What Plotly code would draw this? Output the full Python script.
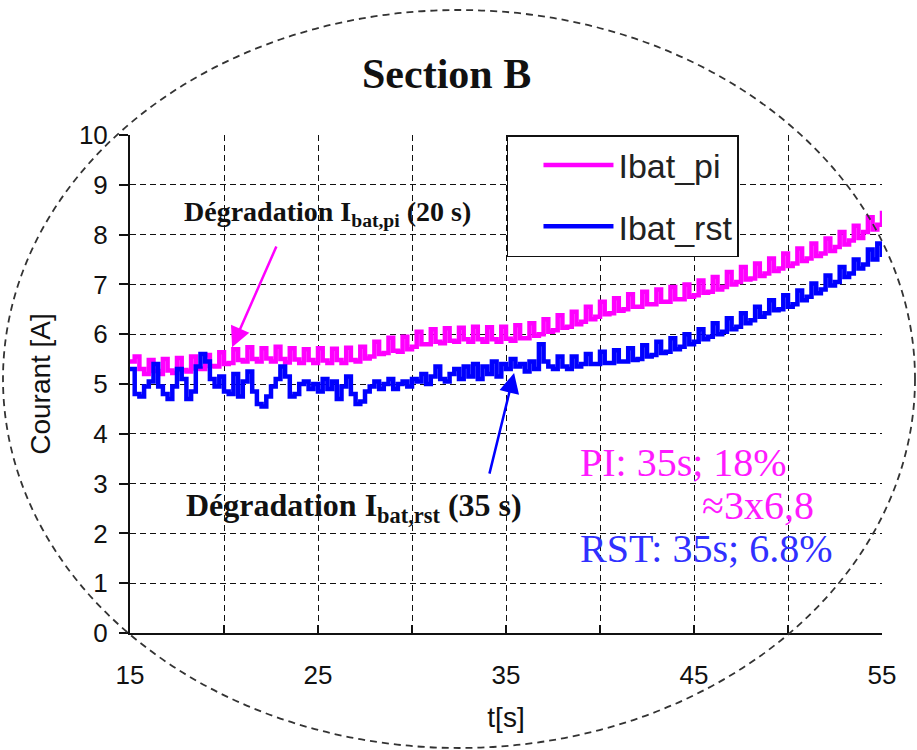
import numpy as np
import plotly.graph_objects as go

# ---------------- data ----------------
t = np.round(np.arange(15.0, 55.0001, 0.25), 2)

ibat_pi = [
    5.45, 5.55, 5.30, 5.20, 5.48, 5.26, 5.20, 5.50, 5.27, 5.22, 5.52, 5.28,
    5.25, 5.55, 5.31, 5.30, 5.58, 5.36, 5.35, 5.64, 5.40, 5.42, 5.70, 5.48,
    5.45, 5.74, 5.50, 5.45, 5.72, 5.51,
    5.45, 5.75, 5.50, 5.43, 5.72, 5.49, 5.42, 5.70, 5.48, 5.42, 5.72, 5.47,
    5.42, 5.71, 5.48, 5.42, 5.73, 5.48, 5.45, 5.75, 5.51, 5.55, 5.85, 5.60,
    5.62, 5.93, 5.67, 5.65, 5.95, 5.70,
    5.75, 6.05, 5.80, 5.80, 6.10, 5.85, 5.82, 6.12, 5.87, 5.85, 6.13, 5.90,
    5.85, 6.15, 5.90, 5.85, 6.14, 5.90, 5.85, 6.15, 5.91, 5.87, 6.18, 5.92,
    5.92, 6.22, 5.97, 6.00, 6.30, 6.05,
    6.08, 6.38, 6.13, 6.15, 6.45, 6.20, 6.25, 6.55, 6.30, 6.35, 6.65, 6.40,
    6.42, 6.72, 6.47, 6.50, 6.80, 6.55, 6.55, 6.85, 6.60, 6.60, 6.90, 6.65,
    6.65, 6.95, 6.70, 6.70, 7.00, 6.75,
    6.78, 7.08, 6.83, 6.85, 7.15, 6.90, 6.95, 7.25, 7.00, 7.05, 7.35, 7.10,
    7.12, 7.42, 7.17, 7.22, 7.52, 7.27, 7.32, 7.62, 7.37, 7.42, 7.72, 7.47,
    7.52, 7.82, 7.57, 7.62, 7.92, 7.67,
    7.75, 8.05, 7.80, 7.88, 8.18, 7.93, 8.05, 8.35, 8.10,
    8.20, 8.48,
]

ibat_rst = [
    5.30, 4.80, 4.75, 4.95,   # 15
    5.05, 5.40, 4.95, 4.80,   # 16
    4.70, 4.95, 5.30, 5.10,   # 17
    4.70, 4.85, 5.35, 5.60,   # 18
    5.45, 5.10, 4.95, 5.15,   # 19
    4.85, 4.80, 5.20, 4.75,   # 20
    5.05, 5.25, 4.85, 4.60,   # 21
    4.55, 4.75, 4.95, 5.10,   # 22
    5.35, 5.15, 4.75, 4.80,   # 23
    5.00, 5.05, 4.90, 5.00,   # 24
    4.85, 5.10, 4.90, 5.05,   # 25
    4.70, 4.95, 5.15, 4.80,   # 26
    4.60, 4.65, 4.85, 4.95,   # 27
    5.05, 4.90, 5.00, 5.10,   # 28
    4.90, 5.00, 5.05, 4.95,   # 29
    5.10, 5.05, 5.20, 5.00,   # 30
    5.15, 5.35, 5.10, 5.05,   # 31
    5.20, 5.30, 5.10, 5.35,   # 32
    5.15, 5.40, 5.10, 5.35,   # 33
    5.20, 5.45, 5.15, 5.40,   # 34
    5.30, 5.50, 5.35, 5.40,   # 35
    5.25, 5.45, 5.30, 5.80,   # 36
    5.45, 5.35, 5.30, 5.55,   # 37
    5.35, 5.30, 5.55, 5.35,   # 38
    5.40, 5.60, 5.40, 5.40,   # 39
    5.65, 5.42, 5.42, 5.68,   # 40
    5.45, 5.45, 5.72, 5.48,   # 41
    5.50, 5.78, 5.55, 5.58,   # 42
    5.85, 5.62, 5.65, 5.92,   # 43
    5.70, 5.75, 6.00, 5.80,   # 44
    5.85, 6.10, 5.90, 5.95,   # 45
    6.22, 6.00, 6.05, 6.32,   # 46
    6.10, 6.15, 6.42, 6.22,   # 47
    6.28, 6.55, 6.35, 6.42,   # 48
    6.68, 6.48, 6.50, 6.78,   # 49
    6.55, 6.60, 6.88, 6.68,   # 50
    6.75, 7.02, 6.82, 6.90,   # 51
    7.18, 6.98, 7.05, 7.35,   # 52
    7.15, 7.22, 7.50, 7.32,   # 53
    7.40, 7.70, 7.50, 7.82,   # 54
    7.55,                     # 55
]

series_names = ["Ibat_pi", "Ibat_rst"]
x_tick_vals = [15, 20, 25, 30, 35, 40, 45, 50, 55]
x_tick_text = ["15", "", "25", "", "35", "", "45", "", "55"]
y_tick_vals = [0, 1, 2, 3, 4, 5, 6, 7, 8, 9, 10]

# ---------------- styling ----------------
MAGENTA = "#FF00FF"
BLUE = "#0000FF"
SANS = "Liberation Sans, Arial, sans-serif"
SERIF = "Liberation Serif, Times New Roman, serif"

fig = go.Figure()
fig.add_trace(go.Scatter(x=t, y=ibat_pi, mode="lines", name=series_names[0],
                         line=dict(color=MAGENTA, width=4.5, shape="hv"), legendgroup="a"))
fig.add_trace(go.Scatter(x=t, y=ibat_rst, mode="lines", name=series_names[1],
                         line=dict(color=BLUE, width=4.5, shape="hv"), legendgroup="b"))

W, H = 917, 750
L, R, T, B = 130, 35, 135, 117
pw, ph = W - L - R, H - T - B


def px_to_paper(px, py):
    return (px - L) / pw, (H - B - py) / ph


fig.update_layout(
    width=W, height=H, autosize=False,
    margin=dict(l=L, r=R, t=T, b=B),
    paper_bgcolor="white", plot_bgcolor="white",
    font=dict(family=SANS, color="#111111"),
    showlegend=True,
    legend=dict(x=0.5013, y=1.0, xanchor="left", yanchor="top",
                bgcolor="white", bordercolor="#111111", borderwidth=1.5,
                font=dict(family=SANS, size=34, color="#222222"),
                itemwidth=70, indentation=30, tracegroupgap=14, itemclick=False),
)

fig.update_xaxes(
    range=[15, 55], tickvals=x_tick_vals, ticktext=x_tick_text,
    showgrid=True, gridcolor="#111111", gridwidth=1.3, griddash="6px,4px",
    showline=True, linecolor="#111111", linewidth=2,
    ticks="inside", ticklen=8, tickcolor="#111111", tickwidth=1.5,
    ticklabelstandoff=18,
    tickfont=dict(family=SANS, size=26, color="#111111"),
    title=dict(text="t[s]", font=dict(family=SANS, size=28, color="#111111"), standoff=18),
    zeroline=False, automargin=False,
)
fig.update_yaxes(
    range=[0, 10], tickvals=y_tick_vals,
    showgrid=True, gridcolor="#111111", gridwidth=1.3, griddash="6px,4px",
    showline=True, linecolor="#111111", linewidth=2,
    ticks="outside", ticklen=9, tickcolor="#111111", tickwidth=1.5,
    ticklabelstandoff=6,
    tickfont=dict(family=SANS, size=26, color="#111111"),
    title=dict(text="Courant [A]", font=dict(family=SANS, size=28, color="#111111"), standoff=20),
    zeroline=False, automargin=False,
)

# Title
tx, ty = px_to_paper(446, 74)
fig.add_annotation(text="<b>Section B</b>", xref="paper", yref="paper", x=tx, y=ty,
                   showarrow=False, font=dict(family=SERIF, size=42, color="#111111"),
                   xanchor="center", yanchor="middle")

# Dashed ellipse around the chart
ex0, ey0 = px_to_paper(3, 748)
ex1, ey1 = px_to_paper(915, 10)
fig.add_shape(type="circle", xref="paper", yref="paper", x0=ex0, y0=ey0, x1=ex1, y1=ey1,
              line=dict(color="#333333", width=1.8, dash="7px,5px"), layer="above")

# Degradation labels
fig.add_annotation(text="<b>Dégradation I<sub>bat,pi</sub> (20 s)</b>", x=25.5, y=8.43,
                   xref="x", yref="y", showarrow=False,
                   font=dict(family=SERIF, size=28, color="#111111"))
fig.add_annotation(text="<b>Dégradation I<sub>bat,rst</sub> (35 s)</b>", x=26.9, y=2.53,
                   xref="x", yref="y", showarrow=False,
                   font=dict(family=SERIF, size=32, color="#111111"))

# Arrows
fig.add_annotation(x=20.43, y=5.74, ax=22.82, ay=7.79, xref="x", yref="y",
                   axref="x", ayref="y", text="", showarrow=True,
                   arrowhead=2, arrowsize=1.6, arrowwidth=2.5, arrowcolor=MAGENTA)
fig.add_annotation(x=35.43, y=5.22, ax=34.1, ay=3.17, xref="x", yref="y",
                   axref="x", ayref="y", text="", showarrow=True,
                   arrowhead=2, arrowsize=1.6, arrowwidth=2.5, arrowcolor=BLUE)

# Result notes
fig.add_annotation(text="PI: 35s; 18%", x=38.83, y=3.43, xref="x", yref="y",
                   xanchor="left", showarrow=False,
                   font=dict(family=SERIF, size=40, color="#FF1AFF"))
fig.add_annotation(text="≈3x6,8", x=45.3, y=2.57, xref="x", yref="y",
                   xanchor="left", showarrow=False,
                   font=dict(family=SERIF, size=40, color="#FF1AFF"))
fig.add_annotation(text="RST: 35s; 6.8%", x=38.83, y=1.69, xref="x", yref="y",
                   xanchor="left", showarrow=False,
                   font=dict(family=SERIF, size=40, color="#3030FF"))

fig.write_html("out.html", config={"displayModeBar": False},
               post_script="document.body.style.margin='0px';")
